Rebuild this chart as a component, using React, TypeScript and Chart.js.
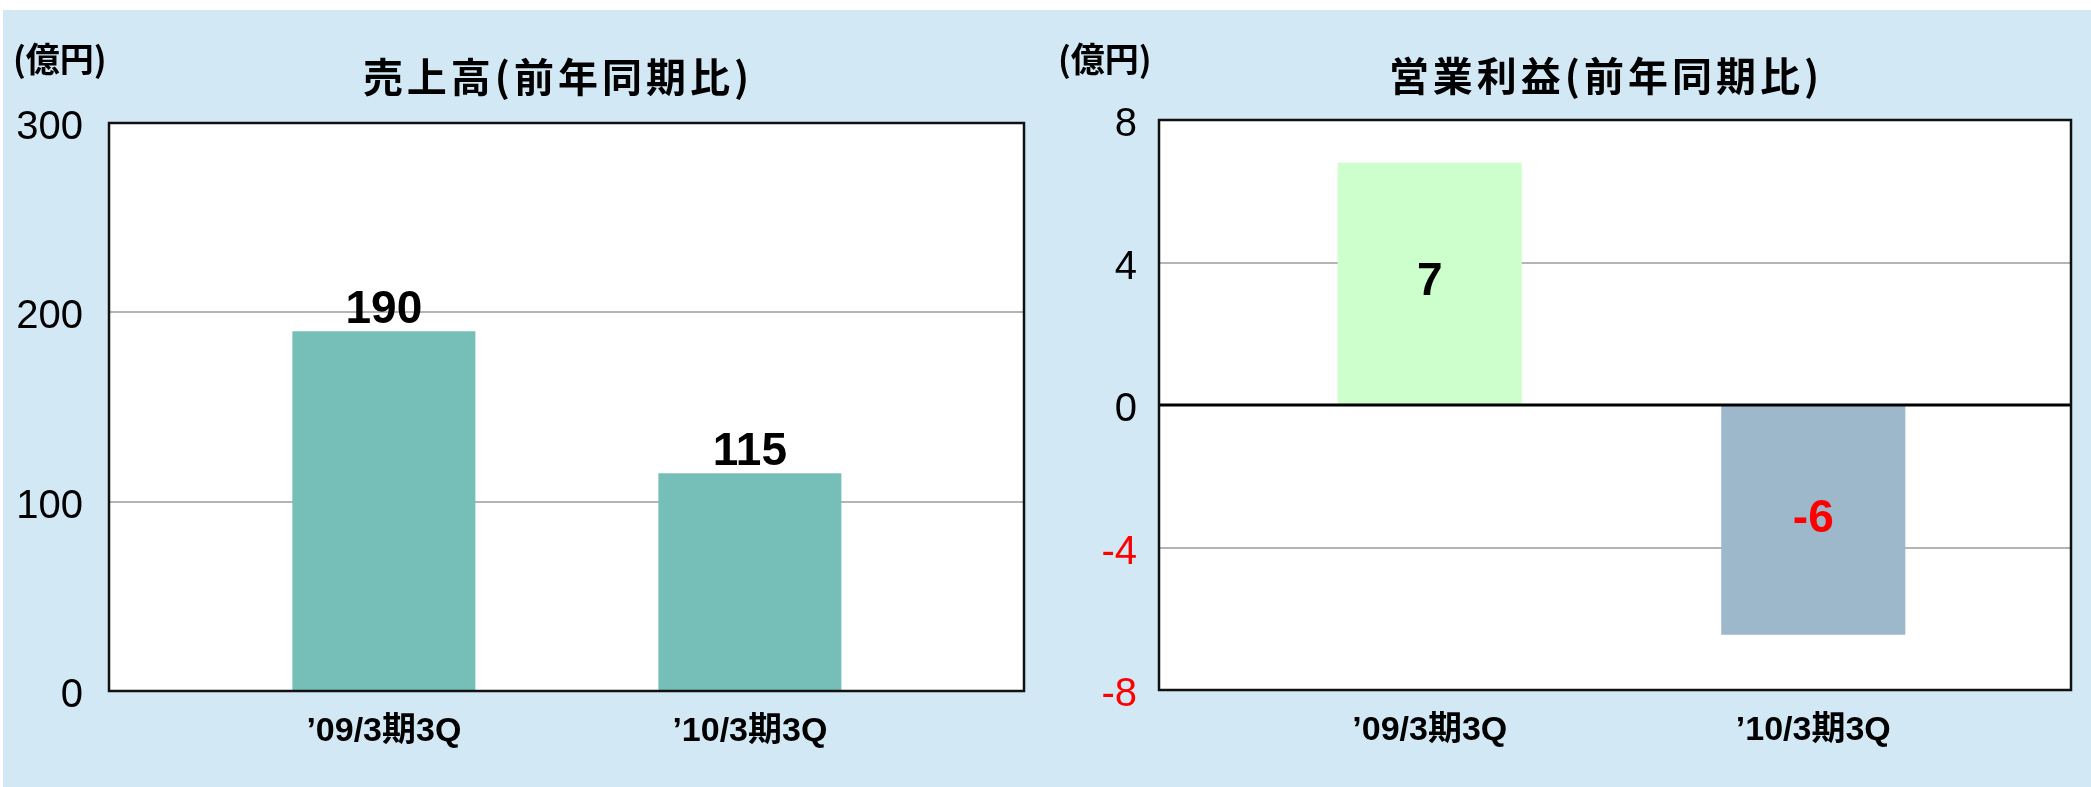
import React, { useEffect, useRef } from "react";
import { Chart, registerables } from "chart.js";

Chart.register(...registerables);

// ---- data ----
const categories = ["\u201909/3期3Q", "\u201910/3期3Q"];
const salesValues = [190, 115];
const profitValues = [6.8, -6.45];
const salesTicks = [0, 100, 200, 300];
const profitTicks = [-8, -4, 0, 4, 8];
const salesTitle = "売上高(前年同期比)";
const profitTitle = "営業利益(前年同期比)";
const unitLabel = "(億円)";

const BG = "#D2E8F5";
const LATIN = '"Liberation Sans", Arial, "Noto Sans CJK JP", sans-serif';
const CJK = '"Noto Sans CJK JP", "Noto Sans CJK SC", sans-serif';

const framePlugin = {
  id: "frame",
  beforeDraw(chart: any) {
    const { ctx, chartArea: a } = chart;
    ctx.save();
    ctx.fillStyle = "#FFFFFF";
    ctx.fillRect(a.left, a.top, a.right - a.left, a.bottom - a.top);
    ctx.restore();
  },
  afterDatasetsDraw(chart: any, _args: any, opts: any) {
    const { ctx, chartArea: a } = chart;
    ctx.save();
    if (opts && opts.zeroLine) {
      const y0 = chart.scales.y.getPixelForValue(0);
      ctx.strokeStyle = "#000000";
      ctx.lineWidth = 3;
      ctx.beginPath();
      ctx.moveTo(a.left, y0);
      ctx.lineTo(a.right, y0);
      ctx.stroke();
    }
    ctx.strokeStyle = "#111111";
    ctx.lineWidth = 2.5;
    ctx.strokeRect(a.left, a.top, a.right - a.left, a.bottom - a.top);
    ctx.restore();
  },
};

const valueLabelPlugin = {
  id: "valueLabels",
  afterDatasetsDraw(chart: any, _args: any, opts: any) {
    const { ctx } = chart;
    const meta = chart.getDatasetMeta(0);
    const ds = chart.data.datasets[0];
    ctx.save();
    ctx.font = `bold 46px ${LATIN}`;
    ctx.textAlign = "center";
    ctx.textBaseline = "alphabetic";
    meta.data.forEach((bar: any, i: number) => {
      const v = ds.data[i].y;
      const txt = String(Math.round(v));
      ctx.fillStyle = v < 0 ? "#FF0000" : "#000000";
      let y: number;
      if (opts.mode === "end") y = bar.y - 8;
      else y = (bar.y + bar.base) / 2 + 12;
      ctx.fillText(txt, bar.x, y);
    });
    ctx.restore();
  },
};

function makeConfig(p: {
  values: number[];
  colors: string[];
  ticks: number[];
  yMin: number;
  yMax: number;
  xMin: number;
  xMax: number;
  barPct: number;
  pad: { left: number; right: number; top: number; bottom: number };
  yWidth: number;
  xHeight: number;
  tickPad: number;
  labelMode: string;
  zeroLine: boolean;
}) {
  return {
    type: "bar",
    data: {
      datasets: [
        {
          data: p.values.map((v, i) => ({ x: i, y: v })),
          backgroundColor: p.colors,
          borderWidth: 0,
          categoryPercentage: 1,
          barPercentage: p.barPct,
        },
      ],
    },
    options: {
      animation: false,
      responsive: false,
      layout: { padding: p.pad },
      plugins: {
        legend: { display: false },
        tooltip: { enabled: false },
        title: { display: false },
        valueLabels: { mode: p.labelMode },
        frame: { zeroLine: p.zeroLine },
      },
      scales: {
        x: {
          type: "linear",
          offset: false,
          min: p.xMin,
          max: p.xMax,
          grid: { display: false, drawTicks: false, offset: false },
          border: { display: false },
          afterBuildTicks: (scale: any) => {
            scale.ticks = categories.map((_, i) => ({ value: i }));
          },
          afterFit: (scale: any) => {
            scale.height = p.xHeight;
          },
          ticks: {
            autoSkip: false,
            maxRotation: 0,
            padding: 20,
            color: "#000000",
            font: { family: LATIN, size: 34, weight: "bold" },
            callback: (v: any) => categories[v] ?? "",
          },
        },
        y: {
          min: p.yMin,
          max: p.yMax,
          afterBuildTicks: (scale: any) => {
            scale.ticks = p.ticks.map((v) => ({ value: v }));
          },
          afterFit: (scale: any) => {
            scale.width = p.yWidth;
          },
          grid: { color: "#B4B4B4", lineWidth: 2, drawTicks: false },
          border: { display: false },
          ticks: {
            padding: p.tickPad,
            labelOffset: 5,
            color: (c: any) => (c.tick && c.tick.value < 0 ? "#FF0000" : "#000000"),
            font: { family: LATIN, size: 40 },
            callback: (v: any) => String(v),
          },
        },
      },
    },
    plugins: [framePlugin, valueLabelPlugin],
  } as any;
}

function ChartCanvas(props: { width: number; height: number; config: any }) {
  const ref = useRef<HTMLCanvasElement | null>(null);
  useEffect(() => {
    if (!ref.current) return;
    const chart = new Chart(ref.current, props.config);
    return () => chart.destroy();
  }, []);
  return (
    <canvas
      ref={ref}
      width={props.width}
      height={props.height}
      style={{ display: "block", width: props.width, height: props.height }}
    />
  );
}

const salesConfig = makeConfig({
  values: salesValues,
  colors: ["#75BFB8", "#75BFB8"],
  ticks: salesTicks,
  yMin: 0,
  yMax: 300,
  xMin: -0.751,
  xMax: 1.749,
  barPct: 0.5,
  pad: { left: 12, right: 21, top: 113, bottom: 0 },
  yWidth: 94,
  xHeight: 96,
  tickPad: 26,
  labelMode: "end",
  zeroLine: false,
});

const profitConfig = makeConfig({
  values: profitValues,
  colors: ["#CCFFCC", "#9DB8CB"],
  ticks: profitTicks,
  yMin: -8,
  yMax: 8,
  xMin: -0.706,
  xMax: 1.672,
  barPct: 0.48,
  pad: { left: 15, right: 20, top: 110, bottom: 0 },
  yWidth: 99,
  xHeight: 97,
  tickPad: 22,
  labelMode: "center",
  zeroLine: true,
});

const textBase: React.CSSProperties = {
  position: "absolute",
  fontFamily: CJK,
  fontWeight: 700,
  color: "#000000",
  whiteSpace: "nowrap",
};

export default function App() {
  return (
    <div
      style={{
        position: "absolute",
        left: 0,
        top: 0,
        width: 2091,
        height: 787,
        background: "#FFFFFF",
        overflow: "hidden",
      }}
    >
      <div style={{ position: "absolute", left: 3, top: 10, width: 2088, height: 777, background: BG }} />
      <div style={{ position: "absolute", left: 3, top: 10 }}>
        <ChartCanvas width={1042} height={777} config={salesConfig} />
      </div>
      <div style={{ position: "absolute", left: 1045, top: 10 }}>
        <ChartCanvas width={1046} height={777} config={profitConfig} />
      </div>
      <div style={{ ...textBase, left: 13, top: 41, fontSize: 34, lineHeight: "34px" }}>{unitLabel}</div>
      <div
        style={{
          ...textBase,
          left: 258,
          width: 600,
          top: 55,
          textAlign: "center",
          fontSize: 40,
          lineHeight: "40px",
          letterSpacing: 4,
        }}
      >
        {salesTitle}
      </div>
      <div style={{ ...textBase, left: 1058, top: 41, fontSize: 34, lineHeight: "34px" }}>{unitLabel}</div>
      <div
        style={{
          ...textBase,
          left: 1306,
          width: 600,
          top: 54,
          textAlign: "center",
          fontSize: 40,
          lineHeight: "40px",
          letterSpacing: 4,
        }}
      >
        {profitTitle}
      </div>
    </div>
  );
}
